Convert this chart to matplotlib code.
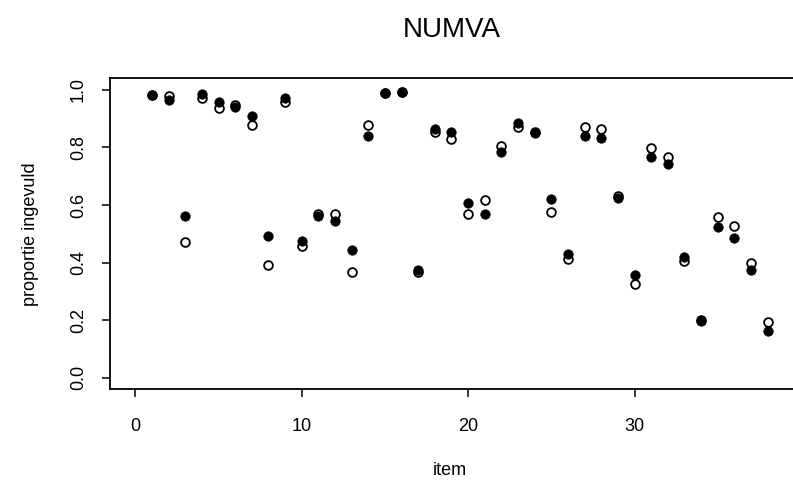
import numpy as np
import matplotlib.pyplot as plt

# DATA
items = list(range(1, 39))
# open circles
prop_open = [0.983, 0.977, 0.471, 0.970, 0.938, 0.949, 0.878, 0.390, 0.956, 0.459,
             0.568, 0.569, 0.367, 0.877, 0.988, 0.992, 0.369, 0.853, 0.829, 0.568,
             0.616, 0.804, 0.872, 0.854, 0.575, 0.414, 0.870, 0.865, 0.631, 0.326,
             0.798, 0.768, 0.405, 0.199, 0.560, 0.528, 0.399, 0.195]
# filled circles
prop_filled = [0.983, 0.965, 0.5625, 0.984, 0.959, 0.940, 0.908, 0.493, 0.970, 0.476,
               0.562, 0.545, 0.443, 0.841, 0.988, 0.992, 0.3735, 0.865, 0.854, 0.608,
               0.568, 0.783, 0.885, 0.850, 0.6195, 0.4315, 0.839, 0.833, 0.624, 0.3585,
               0.766, 0.741, 0.418, 0.197, 0.524, 0.487, 0.3735, 0.1635]
x_ticks = [0, 10, 20, 30]
y_ticks = [0.0, 0.2, 0.4, 0.6, 0.8, 1.0]

plt.rcParams['font.family'] = ['Liberation Sans', 'DejaVu Sans']

W, H = 793, 483
fig = plt.figure(figsize=(W / 100, H / 100), dpi=100)
ax = fig.add_axes([110 / W, (H - 389.3) / H, 1 - 110 / W, (389.3 - 78.3) / H])

ax.plot(items, prop_open, 'o', ms=6.3, mfc='none', mec='black', mew=1.3)
ax.plot(items, prop_filled, 'o', ms=6.8, mfc='black', mec='black', mew=0.5)

ax.set_xlim(-1.52, 39.52)
ax.set_ylim(-0.04, 1.04)
ax.set_xticks(x_ticks)
ax.set_yticks(y_ticks)
ax.set_yticklabels(["%.1f" % v for v in y_ticks])

for s in ['left', 'top', 'bottom']:
    ax.spines[s].set_linewidth(1.3)
ax.spines['right'].set_visible(False)

ax.tick_params(axis='both', direction='out', length=5.5, width=1.1, labelsize=13)
ax.tick_params(axis='x', pad=15)
ax.tick_params(axis='y', pad=11, labelrotation=90)
for lab in ax.get_yticklabels():
    lab.set_va('center')

ax.set_title("NUMVA", fontsize=20, pad=30)
ax.set_xlabel("item", fontsize=13)
ax.xaxis.label.set_va('baseline')
ax.xaxis.set_label_coords(0.5 - 0.002, -0.2756)
ax.set_ylabel("proportie ingevuld", fontsize=13)
ax.yaxis.label.set_va('center')
ax.yaxis.set_label_coords(-0.117, 0.5)

plt.savefig("out.png", dpi=100)
